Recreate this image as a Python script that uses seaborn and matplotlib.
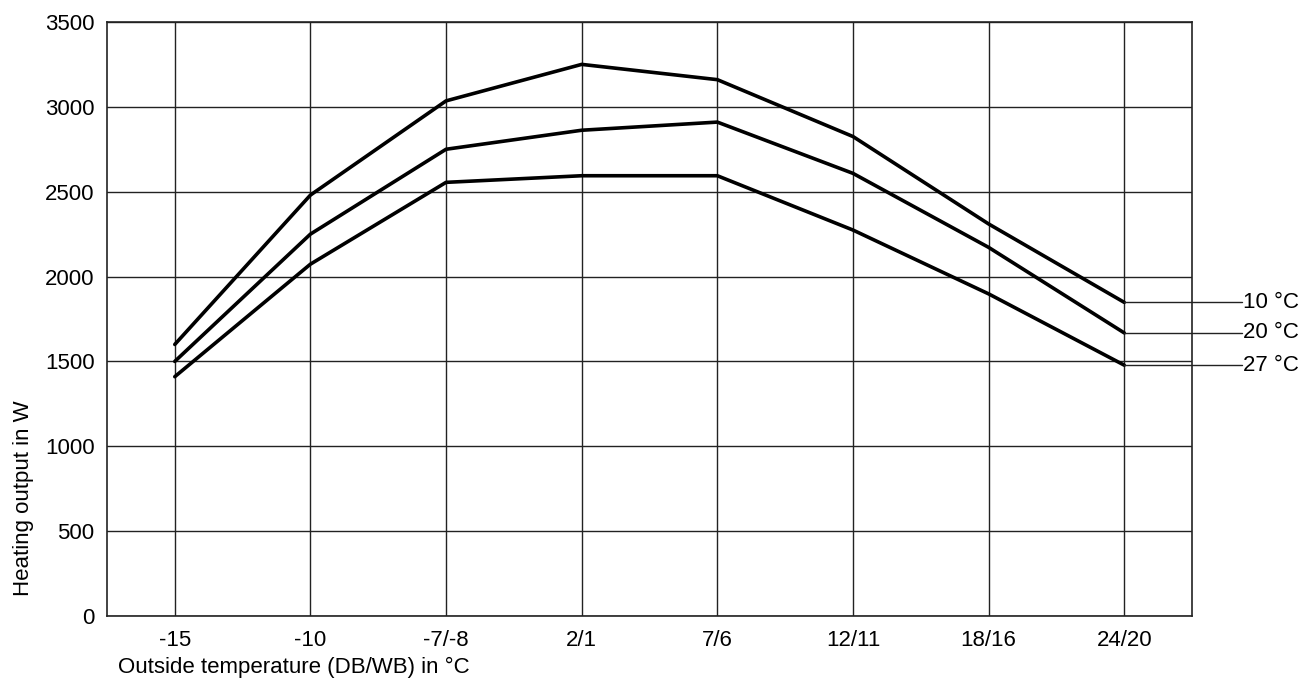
import matplotlib.pyplot as plt
import pandas as pd
import seaborn as sns

categories = ['-15', '-10', '-7/-8', '2/1', '7/6', '12/11', '18/16', '24/20']
series_names = ['10 °C', '20 °C', '27 °C']
output_10 = [1600, 2480, 3035, 3250, 3160, 2825, 2310, 1848]
output_20 = [1500, 2250, 2750, 2862, 2910, 2608, 2172, 1668]
output_27 = [1410, 2073, 2555, 2594, 2594, 2274, 1898, 1478]
y_ticks = [0, 500, 1000, 1500, 2000, 2500, 3000, 3500]

sns.set_theme(style='white')
plt.rcParams['font.family'] = ['Liberation Sans', 'DejaVu Sans']
plt.rcParams['text.color'] = 'black'
FS = 16

df = pd.DataFrame({
    'pos': list(range(len(categories))) * 3,
    'output': output_10 + output_20 + output_27,
    'series': [s for s in series_names for _ in categories],
})

fig = plt.figure(figsize=(13.14, 6.86), dpi=100)
ax = fig.add_axes([0.0814, 0.102, 0.8258, 0.866])

sns.lineplot(data=df, x='pos', y='output', hue='series',
             palette=['black'] * 3, linewidth=2.6, legend=False, ax=ax)

ax.set_xlim(-0.5, len(categories) - 0.5)
ax.set_ylim(0, 3500)
ax.set_xticks(range(len(categories)))
ax.set_xticklabels(categories)
ax.set_yticks(y_ticks)
ax.tick_params(axis='both', length=0, labelsize=FS, colors='black')
ax.tick_params(axis='y', pad=9)
ax.tick_params(axis='x', pad=10)
ax.grid(True, color='#222222', linewidth=1.0)
for sp in ax.spines.values():
    sp.set_color('#222222')
    sp.set_linewidth(1.2)

ax.set_xlabel('')
ax.set_ylabel('')
# axis titles sit off-centre in the original, so place them on the figure
fig.text(24 / 1314, 1 - 498 / 686, 'Heating output in W', fontsize=FS,
         rotation=90, ha='center', va='center', color='black')
fig.text(118 / 1314, 1 - 667 / 686, 'Outside temperature (DB/WB) in °C',
         fontsize=FS, ha='left', va='center', color='black')

# leader lines and series labels at the right end
last = len(categories) - 1
for name, vals in zip(series_names, [output_10, output_20, output_27]):
    ax.plot([last, last + 0.87], [vals[-1], vals[-1]], color='#222222',
            linewidth=1.0, clip_on=False)
    ax.text(last + 0.875, vals[-1], name, fontsize=FS, ha='left', va='center',
            color='black')

fig.savefig('out.png', dpi=100)
